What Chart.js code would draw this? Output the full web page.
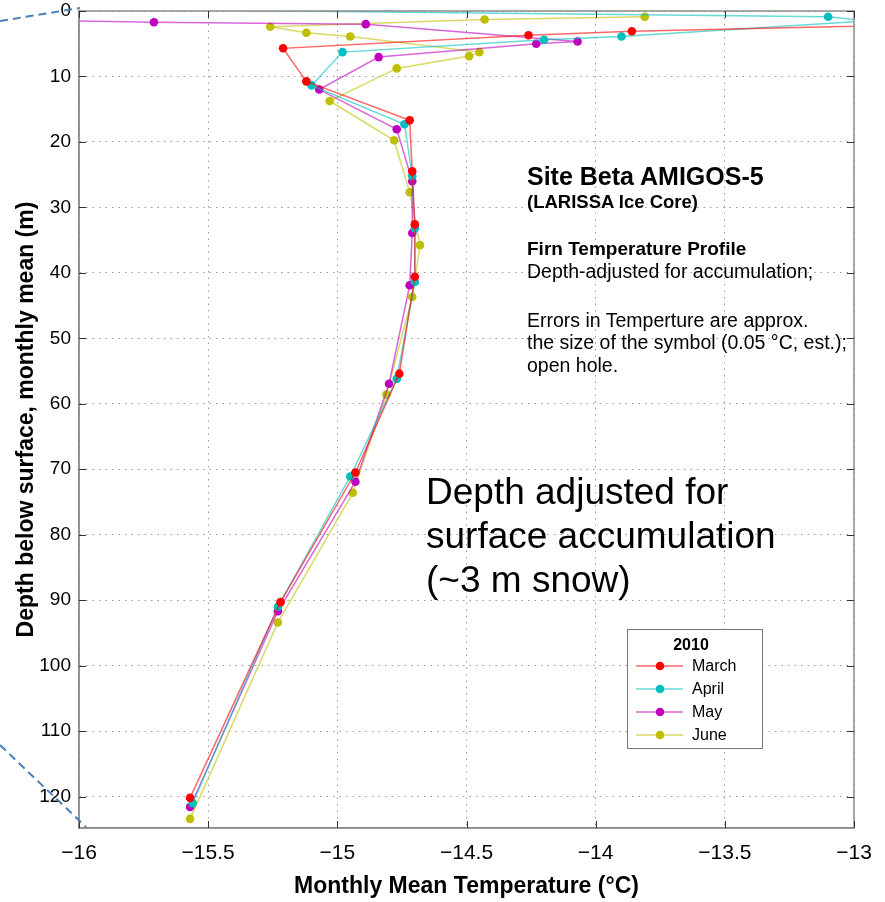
<!DOCTYPE html>
<html>
<head>
<meta charset="utf-8">
<script src="https://cdn.jsdelivr.net/npm/chart.js@4.4.0/dist/chart.umd.min.js"></script>
<style>
  html, body { margin: 0; padding: 0; background: #fff; }
  #wrap { position: relative; width: 885px; height: 902px; }
  #chart-firn { position: absolute; left: 0; top: 0; }
  .note { position: absolute; color: #000; white-space: nowrap; line-height: 1;
          font-family: "Liberation Sans", Arial, Helvetica, sans-serif; }
  .b { font-weight: bold; }
</style>
</head>
<body>
<div id="wrap">
  <canvas id="chart-firn" width="885" height="902"></canvas>
  <div class="note b" style="left:527px; top:164px; font-size:25px;">Site Beta AMIGOS-5</div>
  <div class="note b" style="left:527px; top:193px; font-size:18.5px;">(LARISSA Ice Core)</div>
  <div class="note b" style="left:527px; top:239px; font-size:19px;">Firn Temperature Profile</div>
  <div class="note" style="left:527px; top:261.5px; font-size:19.5px;">Depth-adjusted for accumulation;</div>
  <div class="note" style="left:527px; top:310.5px; font-size:19.5px;">Errors in Temperture are approx.</div>
  <div class="note" style="left:527px; top:332.5px; font-size:19.5px;">the size of the symbol (0.05 °C, est.);</div>
  <div class="note" style="left:527px; top:355.5px; font-size:19.5px;">open hole.</div>
  <div class="note" style="left:426px; top:470px; font-size:37px; line-height:44px;">Depth adjusted for<br>surface accumulation<br>(~3 m snow)</div>
</div>
<script>
const canvasFirn = document.querySelector("#chart-firn").getContext("2d");

// temperature (°C) and depth (m) per month
const marchTemp = [-11.5, -13.86, -14.26, -15.21, -15.12, -14.72, -14.71, -14.70, -14.70, -14.76, -14.93, -15.22, -15.57];
const marchDepth = [1.0, 3.1, 3.7, 5.7, 10.75, 16.7, 24.5, 32.6, 40.6, 55.4, 70.5, 90.3, 120.2];

const aprilTemp = [-16.6, -13.10, -12.95, -13.90, -14.20, -14.98, -15.10, -14.74, -14.71, -14.70, -14.70, -14.77, -14.95, -15.23, -15.56];
const aprilDepth = [-0.6, 0.88, 1.5, 3.89, 4.4, 6.28, 11.36, 17.3, 25.2, 33.2, 41.4, 56.2, 71.1, 91.0, 121.0];

const mayTemp = [-16.6, -15.71, -14.89, -14.07, -14.23, -14.84, -15.07, -14.77, -14.71, -14.71, -14.72, -14.80, -14.93, -15.23, -15.57];
const mayDepth = [1.2, 1.71, 2.01, 4.65, 5.0, 7.04, 12.0, 18.07, 26.0, 33.9, 41.9, 56.95, 71.9, 91.7, 121.6];

const juneTemp = [-13.81, -14.43, -15.26, -15.12, -14.95, -14.45, -14.49, -14.77, -15.03, -14.78, -14.72, -14.68, -14.71, -14.81, -14.94, -15.23, -15.57];
const juneDepth = [0.89, 1.30, 2.41, 3.33, 3.89, 6.28, 6.89, 8.77, 13.75, 19.75, 27.68, 35.76, 43.69, 58.6, 73.6, 93.4, 123.4];

const months = ["March", "April", "May", "June"];
const legendTitle = "2010";
const tempTicks = [-16, -15.5, -15, -14.5, -14, -13.5, -13];
const depthTicks = [0, 10, 20, 30, 40, 50, 60, 70, 80, 90, 100, 110, 120];

const monthTemps = [marchTemp, aprilTemp, mayTemp, juneTemp];
const monthDepths = [marchDepth, aprilDepth, mayDepth, juneDepth];
const dotColors = ["#ff0000", "#00bfbf", "#bf00bf", "#bfbf00"];
const lineColors = ["rgba(255,0,0,0.6)", "rgba(0,191,191,0.6)", "rgba(191,0,191,0.6)", "rgba(191,191,0,0.6)"];

const fontFamily = "'Liberation Sans', Arial, Helvetica, sans-serif";
const minus = (v) => (v < 0 ? "\u2212" : "") + Math.abs(v);

const datasetsFirn = months.map((m, i) => ({
  label: m,
  data: monthTemps[i].map((t, j) => ({ x: t, y: monthDepths[i][j] })),
  showLine: true,
  borderColor: lineColors[i],
  borderWidth: 1.5,
  pointBackgroundColor: dotColors[i],
  pointBorderWidth: 0,
  pointRadius: 4.3,
  tension: 0,
}));

// box round the axes with inward ticks (MATLAB style)
const axesBox = {
  id: "axesBox",
  afterDraw(chart) {
    const { ctx, chartArea: a, scales } = chart;
    ctx.save();
    ctx.strokeStyle = "#8c8c8c";
    ctx.lineWidth = 1.5;
    ctx.strokeRect(a.left, a.top, a.right - a.left, a.bottom - a.top);
    ctx.strokeStyle = "#333";
    ctx.lineWidth = 1;
    ctx.beginPath();
    scales.x.ticks.forEach((t) => {
      const px = Math.round(scales.x.getPixelForValue(t.value)) + 0.5;
      ctx.moveTo(px, a.bottom); ctx.lineTo(px, a.bottom - 7);
      ctx.moveTo(px, a.top); ctx.lineTo(px, a.top + 7);
    });
    scales.y.ticks.forEach((t) => {
      const py = Math.round(scales.y.getPixelForValue(t.value)) + 0.5;
      ctx.moveTo(a.left, py); ctx.lineTo(a.left + 7, py);
      ctx.moveTo(a.right, py); ctx.lineTo(a.right - 7, py);
    });
    ctx.stroke();
    ctx.restore();
  },
};

// slide callout lines on the left
const callout = {
  id: "callout",
  afterDraw(chart) {
    const ctx = chart.ctx;
    ctx.save();
    ctx.strokeStyle = "#4a7ebb";
    ctx.lineWidth = 2;
    ctx.setLineDash([8, 5]);
    ctx.beginPath();
    ctx.moveTo(0, 21); ctx.lineTo(80, 8);
    ctx.moveTo(0, 745); ctx.lineTo(86, 827);
    ctx.stroke();
    ctx.restore();
  },
};

const legendBox = {
  id: "legendBox",
  afterDraw(chart) {
    const ctx = chart.ctx;
    const x = 627, y = 629, w = 135, h = 119;
    ctx.save();
    ctx.fillStyle = "#fff";
    ctx.fillRect(x, y, w, h);
    ctx.strokeStyle = "#777";
    ctx.lineWidth = 1;
    ctx.strokeRect(x + 0.5, y + 0.5, w, h);
    ctx.fillStyle = "#000";
    ctx.font = "bold 16px " + fontFamily;
    ctx.textAlign = "center";
    ctx.textBaseline = "alphabetic";
    ctx.fillText(legendTitle, x + 64, y + 21);
    ctx.font = "16px " + fontFamily;
    ctx.textAlign = "left";
    ctx.textBaseline = "middle";
    chart.data.datasets.forEach((ds, i) => {
      const cy = 666 + i * 23;
      ctx.strokeStyle = ds.borderColor;
      ctx.lineWidth = ds.borderWidth;
      ctx.beginPath();
      ctx.moveTo(636, cy); ctx.lineTo(683, cy);
      ctx.stroke();
      ctx.fillStyle = ds.pointBackgroundColor;
      ctx.beginPath();
      ctx.arc(660, cy, ds.pointRadius, 0, Math.PI * 2);
      ctx.fill();
      ctx.fillStyle = "#000";
      ctx.fillText(ds.label, 692, cy + 1);
    });
    ctx.restore();
  },
};

const optionsFirn = {
  responsive: false,
  animation: false,
  devicePixelRatio: 1,
  layout: { padding: { left: 0, right: 31, top: 11, bottom: 0 } },
  plugins: {
    legend: { display: false },
    tooltip: { enabled: false },
  },
  scales: {
    x: {
      type: "linear",
      position: "bottom",
      min: -16,
      max: -13,
      afterBuildTicks: (s) => { s.ticks = tempTicks.map((v) => ({ value: v })); },
      afterFit: (s) => { s.height = 74; s.paddingLeft = 0; s.paddingRight = 0; },
      ticks: {
        color: "#000",
        padding: 13,
        font: { family: fontFamily, size: 21 },
        callback: (v) => minus(v),
      },
      grid: { color: "#9a9a9a", lineWidth: 1, drawTicks: false },
      border: { color: "#8c8c8c", width: 1.5, dash: [1.5, 5] },
      title: {
        display: true,
        text: "Monthly Mean Temperature (\u00b0C)",
        color: "#000",
        font: { family: fontFamily, size: 23, weight: "bold" },
        padding: { top: 0, bottom: 2 },
      },
    },
    y: {
      type: "linear",
      reverse: true,
      min: 0,
      max: 124.8,
      afterBuildTicks: (s) => { s.ticks = depthTicks.map((v) => ({ value: v })); },
      afterFit: (s) => { s.width = 79; s.paddingTop = 0; s.paddingBottom = 0; },
      ticks: {
        color: "#000",
        padding: 8,
        font: { family: fontFamily, size: 19 },
      },
      grid: { color: "#9a9a9a", lineWidth: 1, drawTicks: false },
      border: { color: "#8c8c8c", width: 1.5, dash: [1.5, 5] },
      title: {
        display: true,
        text: "Depth below surface, monthly mean (m)",
        color: "#000",
        font: { family: fontFamily, size: 23, weight: "bold" },
        padding: { top: 13, bottom: 0 },
      },
    },
  },
};

new Chart(canvasFirn, {
  type: "scatter",
  data: { datasets: datasetsFirn },
  options: optionsFirn,
  plugins: [axesBox, callout, legendBox],
});
</script>
</body>
</html>
